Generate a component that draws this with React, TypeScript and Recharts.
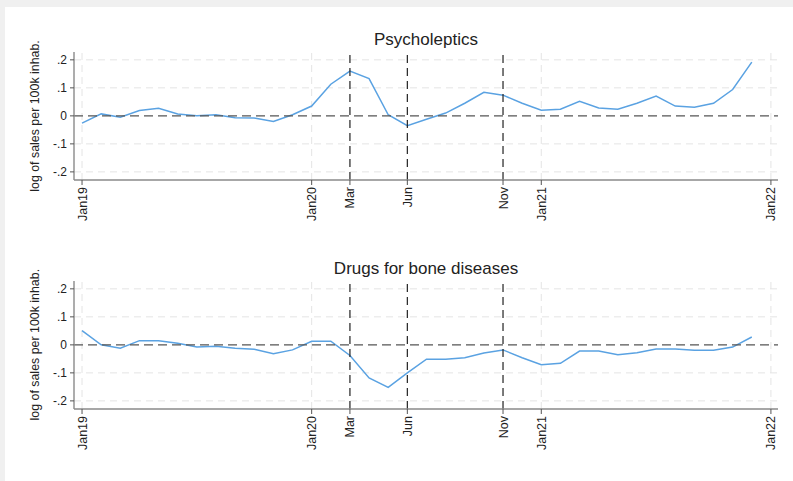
import React from 'react';
import { LineChart, Line, XAxis, YAxis, ReferenceLine } from 'recharts';

const months = [
  '2019-01','2019-02','2019-03','2019-04','2019-05','2019-06','2019-07','2019-08','2019-09','2019-10','2019-11','2019-12',
  '2020-01','2020-02','2020-03','2020-04','2020-05','2020-06','2020-07','2020-08','2020-09','2020-10','2020-11','2020-12',
  '2021-01','2021-02','2021-03','2021-04','2021-05','2021-06','2021-07','2021-08','2021-09','2021-10','2021-11','2021-12',
];

const psycholeptics = [
  -0.026, 0.007, -0.005, 0.019, 0.027, 0.007, 0.000, 0.004, -0.007, -0.008, -0.020, 0.004,
  0.035, 0.113, 0.160, 0.133, 0.004, -0.035, -0.012, 0.010, 0.045, 0.084, 0.074, 0.045,
  0.020, 0.024, 0.052, 0.028, 0.024, 0.045, 0.071, 0.035, 0.031, 0.045, 0.094, 0.192,
];

const boneDrugs = [
  0.051, 0.000, -0.012, 0.015, 0.015, 0.006, -0.008, -0.005, -0.012, -0.016, -0.032, -0.018,
  0.013, 0.013, -0.038, -0.118, -0.152, -0.100, -0.051, -0.051, -0.046, -0.029, -0.018, -0.046,
  -0.071, -0.066, -0.022, -0.022, -0.035, -0.028, -0.015, -0.015, -0.019, -0.019, -0.008, 0.028,
];

const xTickValues = [0, 12, 14, 17, 22, 24, 36];
const xTickLabels = ['Jan19', 'Jan20', 'Mar', 'Jun', 'Nov', 'Jan21', 'Jan22'];
const yearLines = [0, 12, 24, 36];
const eventLines = [14, 17, 22];
const yTickValues = [-0.2, -0.1, 0, 0.1, 0.2];
const yTickLabels = ['-.2', '-.1', '0', '.1', '.2'];
const gridY = [-0.2, -0.1, 0.1, 0.2];

const FONT = '"Liberation Sans", Arial, Helvetica, sans-serif';

const XTick = (props: any) => {
  const { x, y, payload } = props;
  const i = xTickValues.indexOf(payload.value);
  const label = i >= 0 ? xTickLabels[i] : '';
  return (
    <text
      transform={`translate(${x + 4.5},${y}) rotate(-90)`}
      textAnchor="end"
      fontSize={12.5}
      fontFamily={FONT}
      fill="#222"
    >
      {label}
    </text>
  );
};

const yFmt = (v: number) => {
  const i = yTickValues.findIndex((t) => Math.abs(t - v) < 1e-9);
  return i >= 0 ? yTickLabels[i] : String(v);
};

function Panel({ values, top }: { values: number[]; top: number }) {
  const data = months.map((m, i) => ({ t: i, month: m, v: values[i] }));
  return (
    <div style={{ position: 'absolute', left: 0, top, width: 793, height: 240 }}>
      <LineChart width={793} height={240} data={data} margin={{ top: 52, right: 15, bottom: 0, left: 34 }}>
        <XAxis
          type="number"
          dataKey="t"
          domain={[-0.42, 36.37]}
          ticks={xTickValues}
          interval={0}
          allowDataOverflow
          height={60}
          tick={<XTick />}
          tickSize={5}
          tickMargin={2}
          stroke="#8a8a8a"
          axisLine={{ stroke: '#8a8a8a', strokeWidth: 1.4 }}
          tickLine={{ stroke: '#555' }}
        />
        <YAxis
          type="number"
          domain={[-0.229, 0.228]}
          ticks={yTickValues}
          allowDataOverflow
          interval={0}
          width={40}
          tickFormatter={yFmt}
          tickSize={4}
          tickMargin={3}
          axisLine={{ stroke: '#8a8a8a', strokeWidth: 1.4 }}
          tickLine={{ stroke: '#555' }}
          tick={{ fontSize: 12, fill: '#222', fontFamily: FONT }}
        />
        {gridY.map((g) => (
          <ReferenceLine key={'gy' + g} y={g} stroke="#e4e4e4" strokeDasharray="7 5" strokeWidth={1} />
        ))}
        {yearLines.map((g) => (
          <ReferenceLine key={'gx' + g} x={g} stroke="#e4e4e4" strokeDasharray="7 5" strokeWidth={1} />
        ))}
        <Line
          type="linear"
          dataKey="v"
          stroke="#5aa2e2"
          strokeWidth={1.5}
          dot={false}
          isAnimationActive={false}
        />
        <ReferenceLine y={0} stroke="#555" strokeDasharray="9 5" strokeWidth={1.4} />
        {eventLines.map((e) => (
          <ReferenceLine key={'e' + e} x={e} stroke="#222" strokeDasharray="8 5" strokeWidth={1.2} />
        ))}
      </LineChart>
    </div>
  );
}

const titles = ['Psycholeptics', 'Drugs for bone diseases'];
const yLabel = 'log of sales per 100k inhab.';
const PANEL_SHIFT = 228.7;

export default function App() {
  return (
    <div
      style={{
        position: 'absolute',
        left: 0,
        top: 0,
        width: 793,
        height: 481,
        background: '#f0f0f0',
        overflow: 'hidden',
      }}
    >
      <div style={{ position: 'absolute', left: 5, top: 7, width: 788, height: 474, background: '#ffffff' }} />
      <Panel values={psycholeptics} top={0} />
      <Panel values={boneDrugs} top={PANEL_SHIFT} />
      <svg
        width={793}
        height={481}
        style={{ position: 'absolute', left: 0, top: 0, pointerEvents: 'none' }}
      >
        {titles.map((t, i) => (
          <text
            key={t}
            x={426}
            y={45 + i * PANEL_SHIFT}
            textAnchor="middle"
            fontSize={17}
            fontFamily={FONT}
            fill="#222"
          >
            {t}
          </text>
        ))}
        {titles.map((t, i) => (
          <text
            key={'yl' + t}
            transform={`translate(39,${116 + i * PANEL_SHIFT}) rotate(-90)`}
            textAnchor="middle"
            fontSize={12.4}
            fontFamily={FONT}
            fill="#222"
          >
            {yLabel}
          </text>
        ))}
      </svg>
    </div>
  );
}
